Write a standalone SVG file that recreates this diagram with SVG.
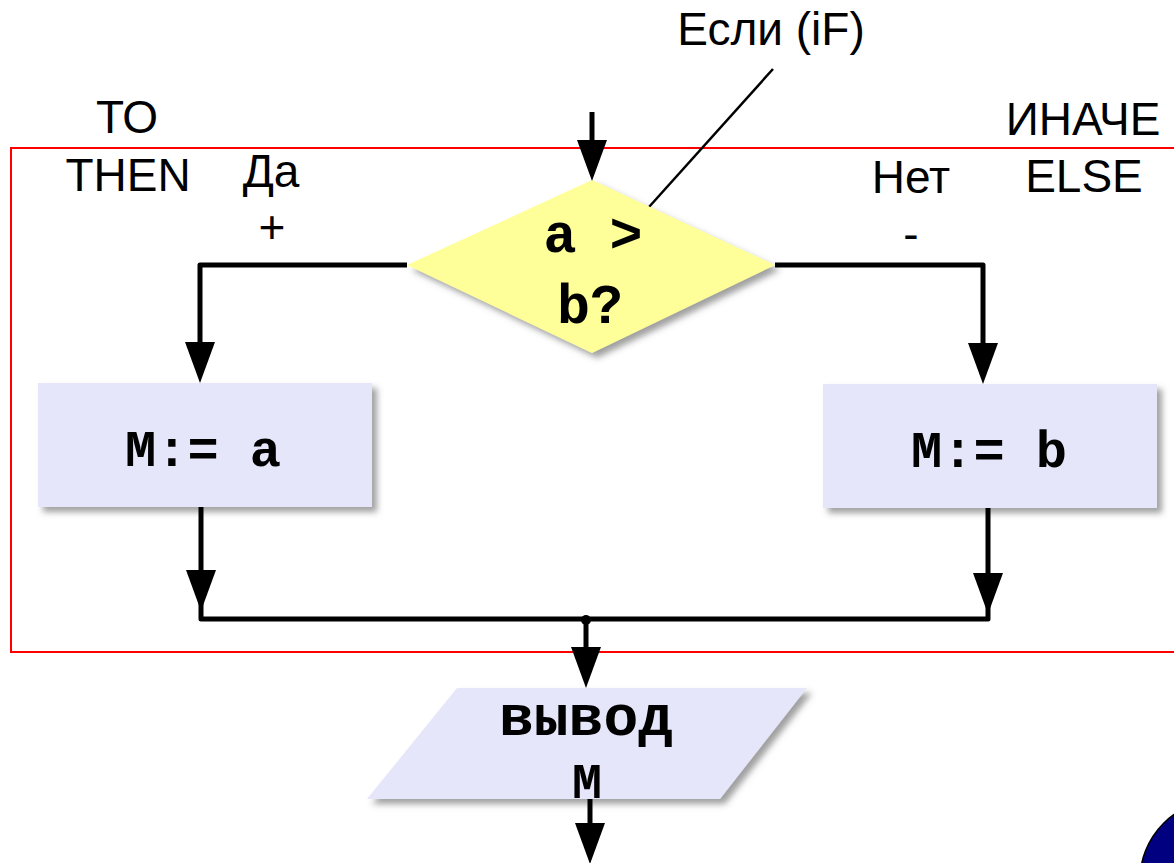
<svg xmlns="http://www.w3.org/2000/svg" xmlns:xlink="http://www.w3.org/1999/xlink" width="1174" height="863" viewBox="0 0 1174 863">
  <style>
    .sans { font-family: "Liberation Sans", Arial, sans-serif; font-size: 46px; fill: #000; }
    .mono { font-family: "Liberation Mono", "Courier New", monospace; font-weight: bold; fill: #000; }
    .line { fill: none; stroke: #000; stroke-width: 5; stroke-linejoin: round; }
    .box { fill: #E6E6FA; filter: url(#shadow); }
    .dec { fill: #FFFF99; filter: url(#shadow); }
  </style>
  <defs>
    <filter id="shadow" x="-10%" y="-10%" width="130%" height="130%">
      <feDropShadow dx="5" dy="5" stdDeviation="3" flood-color="#606060" flood-opacity="0.6"/>
    </filter>
    <path id="ah" d="M-15,-41 L15,-41 L0,0 Z" fill="#000"/>
  </defs>
  <rect width="1174" height="863" fill="#fff"/>

  <!-- red frame -->
  <rect id="frame" x="11" y="148" width="1200" height="504" fill="none" stroke="#FF0000" stroke-width="2"/>

  <!-- labels -->
  <g id="labels">
    <text class="sans" x="771" y="45" text-anchor="middle" font-size="47">Если (iF)</text>
    <line x1="773" y1="69" x2="649" y2="207" stroke="#000" stroke-width="2.5"/>
    <text class="sans" x="127" y="133" text-anchor="middle">ТО</text>
    <text class="sans" x="128" y="191" text-anchor="middle">THEN</text>
    <text class="sans" x="271" y="187" text-anchor="middle">Да</text>
    <text class="sans" x="272" y="243" text-anchor="middle">+</text>
    <text class="sans" x="1083" y="135" text-anchor="middle">ИНАЧЕ</text>
    <text class="sans" x="1084" y="192" text-anchor="middle">ELSE</text>
    <text class="sans" x="911" y="193" text-anchor="middle">Нет</text>
    <text class="sans" x="911" y="250" text-anchor="middle">-</text>
  </g>

  <!-- nodes -->
  <g id="decision">
    <polygon class="dec" points="592,180 775,265 592,353 407,265"/>
    <text class="mono" x="593" y="252" font-size="55" text-anchor="middle">a &gt;</text>
    <text class="mono" x="590" y="323" font-size="55" text-anchor="middle">b?</text>
  </g>
  <g id="then-box">
    <rect class="box" x="38" y="383" width="334" height="124"/>
    <text class="mono" x="203" y="466" font-size="52" text-anchor="middle">M:= a</text>
  </g>
  <g id="else-box">
    <rect class="box" x="823" y="384" width="334" height="124"/>
    <text class="mono" x="989" y="467" font-size="52" text-anchor="middle">M:= b</text>
  </g>
  <g id="output">
    <polygon class="box" points="457,688 807,688 720,799 367,799"/>
    <text class="mono" x="586" y="735" font-size="58" text-anchor="middle">вывод</text>
    <text class="mono" x="587" y="798" font-size="50" text-anchor="middle">M</text>
  </g>

  <!-- connectors -->
  <g id="connectors">
    <line class="line" x1="592" y1="112" x2="592" y2="150"/>
    <use xlink:href="#ah" x="592" y="181"/>
    <path class="line" d="M407,265 H200 V350"/>
    <use xlink:href="#ah" x="200" y="383"/>
    <path class="line" d="M775,265 H983 V350"/>
    <use xlink:href="#ah" x="983" y="384"/>
    <path class="line" d="M201,507 V619 H988 V508"/>
    <use xlink:href="#ah" x="201" y="611"/>
    <use xlink:href="#ah" x="988" y="614"/>
    <circle cx="586" cy="620" r="5" fill="#000"/>
    <line class="line" x1="586" y1="620" x2="586" y2="655"/>
    <use xlink:href="#ah" x="586" y="688"/>
    <line class="line" x1="590" y1="799" x2="590" y2="830"/>
    <use xlink:href="#ah" x="590" y="864"/>
  </g>

  <!-- corner button -->
  <circle id="nav" cx="1220" cy="880" r="80" fill="#000080" stroke="#000" stroke-width="1.5"/>
</svg>
